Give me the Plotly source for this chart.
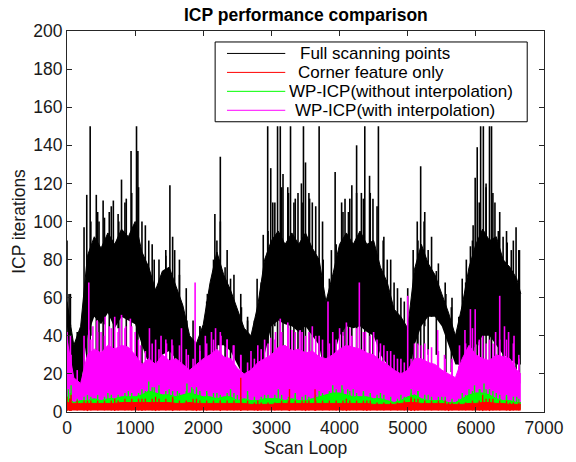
import plotly.graph_objects as go

# ---------------- data ----------------
scan_x = [0, 100, 200, 300, 400, 500, 600, 700, 800, 900, 1000, 1100, 1200, 1300, 1400, 1500, 1600,
          1700, 1800, 1900, 2000, 2100, 2200, 2300, 2400, 2500, 2600, 2700, 2800, 2900, 3000, 3100,
          3200, 3300, 3400, 3500, 3600, 3700, 3800, 3900, 4000, 4100, 4200, 4300, 4400, 4500, 4600,
          4700, 4800, 4900, 5000, 5100, 5200, 5300, 5400, 5500, 5600, 5700, 5800, 5900, 6000, 6100,
          6200, 6300, 6400, 6500, 6600, 6660]

# Full scanning points: dense band (upper / lower envelope), per-window maxima and isolated peaks
full_hi = [58, 35, 45, 82, 92, 86, 94, 88, 96, 92, 100, 84, 76, 64, 74, 76, 66, 56, 40, 36, 46, 68, 84,
           72, 64, 54, 44, 40, 56, 80, 90, 95, 88, 94, 88, 94, 86, 80, 58, 72, 88, 94, 88, 95, 88, 90,
           76, 68, 54, 50, 44, 75, 88, 78, 72, 62, 52, 40, 56, 76, 88, 96, 90, 92, 80, 76, 70, 62]
full_lo = [45, 10, 12, 40, 50, 46, 52, 44, 50, 48, 46, 35, 25, 18, 30, 32, 28, 22, 18, 15, 15, 25, 35,
           35, 32, 25, 18, 14, 16, 30, 45, 48, 46, 45, 42, 45, 40, 35, 15, 28, 40, 45, 44, 45, 42, 40,
           30, 25, 20, 16, 16, 35, 45, 50, 50, 45, 35, 25, 25, 30, 35, 40, 40, 35, 30, 28, 25, 25]
full_top = [62, 42, 55, 100, 105, 102, 108, 104, 110, 115, 118, 98, 88, 80, 85, 92, 80, 65, 48, 45, 58,
            80, 100, 85, 72, 62, 50, 48, 68, 95, 110, 118, 115, 112, 110, 115, 108, 100, 70, 88, 105,
            112, 115, 112, 115, 108, 92, 80, 65, 58, 55, 90, 105, 92, 78, 68, 60, 50, 68, 90, 110, 118,
            115, 105, 95, 90, 85]
full_peak_x = [0, 30, 250, 290, 340, 430, 470, 530, 620, 680, 760, 800, 870, 940, 1020, 1040, 1100, 1200,
               1280, 1450, 1510, 1580, 1650, 1760, 1950, 2060, 2170, 2200, 2250, 2320, 2400, 2560, 2650,
               2790, 2880, 2945, 2990, 3020, 3090, 3130, 3170, 3240, 3280, 3330, 3390, 3440, 3470, 3500,
               3560, 3600, 3700, 3760, 3880, 3935, 4030, 4080, 4130, 4180, 4250, 4320, 4370, 4440, 4490,
               4570, 4640, 4700, 4800, 4900, 5000, 5080, 5140, 5190, 5240, 5300, 5420, 5560, 5640, 5800,
               5860, 5920, 5960, 5990, 6020, 6070, 6110, 6150, 6200, 6230, 6280, 6330, 6400, 6460, 6520,
               6590, 6640]
full_peak_y = [90, 62, 97, 114, 150, 114, 100, 111, 105, 111, 100, 122, 112, 137, 150, 137, 100, 90,
               80, 82, 119, 85, 72, 48, 45, 62, 104, 90, 134, 76, 70, 55, 48,
               70, 93, 150, 128, 110, 150, 150, 125, 118, 150, 110, 115, 120, 150, 131,
               112, 110, 150, 80, 85, 126, 110, 112, 105, 119, 140, 115, 150, 124, 112,
               150, 90, 80, 68, 60, 65, 85, 100, 129, 100, 85, 74, 62, 55, 70,
               80, 87, 98, 123, 139, 150, 150, 120, 150, 150, 110, 95, 92, 89, 85,
               97, 85]

# WP-ICP (with interpolation)
with_hi = [38, 18, 15, 30, 33, 31, 35, 33, 35, 34, 30, 25, 28, 25, 30, 27, 28, 25, 22, 25, 28, 30, 33,
           29, 28, 23, 20, 22, 26, 28, 30, 34, 35, 32, 33, 31, 32, 29, 28, 30, 33, 35, 34, 33, 31, 30,
           27, 25, 22, 20, 22, 28, 28, 26, 25, 22, 20, 18, 28, 35, 30, 28, 27, 30, 29, 28, 22, 20]
with_lo = [3, 3, 3, 3, 4, 4, 4, 4, 4, 4, 4, 4, 4, 4, 4, 4, 4, 4, 3, 3, 3, 4, 4, 4, 4, 4, 3, 3, 3, 4,
           4, 4, 4, 4, 4, 4, 4, 4, 4, 4, 4, 4, 4, 4, 4, 4, 3, 3, 3, 3, 3, 4, 4, 4, 4, 3, 3, 3, 3, 4,
           4, 4, 4, 4, 4, 4, 3, 3]
with_top = [40, 22, 20, 38, 42, 40, 44, 42, 44, 45, 38, 32, 36, 33, 38, 35, 35, 33, 28, 32, 36, 38, 42,
            38, 35, 30, 26, 28, 33, 36, 38, 42, 44, 42, 42, 42, 40, 38, 36, 38, 42, 44, 44, 42, 40, 38,
            35, 32, 28, 26, 28, 36, 36, 34, 32, 28, 26, 24, 36, 44, 38, 36, 36, 38, 38, 36, 28]
with_peak_x = [0, 60, 250, 320, 380, 440, 500, 560, 620, 700, 760, 800, 860, 930, 1000, 1080, 1210,
               1300, 1380, 1460, 1540, 1680, 1780, 1880, 1950, 2030, 2120, 2180, 2260, 2350, 2440, 2550,
               2700, 2800, 2900, 2990, 3060, 3130, 3240, 3300, 3420, 3500, 3600, 3700, 3830, 3900, 4000,
               4100, 4180, 4290, 4380, 4500, 4600, 4700, 4800, 4900, 5000, 5100, 5200, 5300, 5440, 5540,
               5650, 5760, 5840, 5920, 5990, 6100, 6200, 6290, 6350, 6420, 6480, 6560, 6630]
with_peak_y = [42, 30, 40, 68, 45, 48, 42, 50, 45, 50, 44, 51, 45, 49, 42, 35, 44,
               38, 40, 36, 38, 44, 30, 68, 35, 40, 42, 44, 40, 38, 35, 30,
               32, 35, 38, 39, 42, 49, 47, 43, 43, 40, 45, 40, 58, 42, 44,
               47, 40, 68, 42, 42, 36, 32, 30, 28, 61, 36, 35, 33, 43, 30,
               28, 35, 43, 54, 54, 40, 38, 42, 61, 45, 42, 40, 30]

# WP-ICP (without interpolation)
without_hi = [8, 5, 6, 6, 7, 6, 7, 7, 8, 8, 8, 9, 11, 10, 9, 9, 8, 9, 10, 9, 8, 8, 7, 8, 8, 6, 7, 6,
              6, 7, 7, 7, 6, 7, 6, 6, 7, 8, 9, 10, 10, 9, 8, 8, 8, 7, 7, 6, 5, 6, 8, 9, 7, 6, 6, 6,
              5, 5, 7, 9, 10, 10, 9, 7, 6, 6, 5, 5]
without_lo = [1.5] * 68
without_top = [10, 7, 8, 8, 9, 8, 9, 9, 10, 10, 10, 11, 13, 12, 11, 11, 10, 11, 12, 11, 10, 10, 9, 10,
               10, 8, 9, 8, 8, 9, 9, 9, 8, 9, 8, 8, 9, 10, 11, 12, 12, 11, 10, 10, 10, 9, 9, 8, 7, 8,
               10, 11, 9, 8, 8, 8, 7, 7, 9, 11, 12, 12, 11, 9, 8, 8, 7]
without_peak_x = [20, 60, 300, 600, 900, 1100, 1200, 1280, 1350, 1500, 1620, 1760, 1830, 1900, 2050,
                  2200, 2400, 2500, 2650, 2900, 3100, 3350, 3500, 3700, 3900, 4035, 4120, 4200, 4350,
                  4600, 4900, 5050, 5150, 5300, 5500, 5800, 5900, 5980, 6060, 6120, 6200, 6300, 6450, 6600]
without_peak_y = [12, 14, 9, 10, 11, 12, 16, 13, 14, 12, 11, 15, 13, 13, 11,
                  10, 12, 9, 11, 9, 12, 10, 9, 11, 14, 14, 12, 12, 11,
                  10, 9, 12, 11, 9, 8, 10, 12, 14, 12, 15, 12, 10, 9, 8]

# Corner feature only
corner_hi = [5, 4.5, 4.5, 4.5, 4.5, 4.5, 4.5, 4.5, 5, 5, 5, 5, 5, 5, 5, 5, 4.5, 4.5, 5, 4.5, 4.5, 4.5,
             4.5, 4.5, 4.5, 4.5, 4.5, 4, 4, 4, 4, 4.5, 4.5, 4.5, 4.5, 4.5, 4.5, 4.5, 4.5, 4.5, 4.5, 4.5,
             4.5, 4.5, 4.5, 4, 4, 4, 4, 4.5, 5, 5, 4.5, 4.5, 4.5, 4.5, 4, 4, 4, 4.5, 4.5, 5, 5, 4.5, 4.5,
             4, 4, 4]
corner_lo = [0.8] * 68
corner_top = [7, 6, 6, 6, 6, 6, 6, 6, 7, 7, 7, 7, 7, 7, 7, 7, 6, 6, 7, 6, 6, 6, 6, 6, 6, 6, 6, 5, 5, 5,
              5, 6, 6, 6, 6, 6, 6, 6, 6, 6, 6, 6, 6, 6, 6, 5, 5, 5, 5, 6, 7, 7, 6, 6, 6, 6, 5, 5, 5, 6,
              6, 7, 7, 6, 6, 5, 5]
corner_peak_x = [0, 40, 60, 300, 700, 1100, 1300, 1550, 1900, 2250, 2550, 2800, 3265, 3500, 3640,
                 4100, 4400, 5050, 5100, 5600, 6100, 6200, 6500]
corner_peak_y = [8, 7, 9, 6, 7, 7, 8, 8, 7, 6, 18, 6, 12, 6, 12, 7, 6, 8, 7, 5, 9, 7, 5]

series_names = ["Full scanning points", "Corner feature only",
                "WP-ICP(without interpolation)", "WP-ICP(with interpolation)"]
series_colors = ["#000000", "#FF0000", "#00FF00", "#FF00FF"]

# ---------------- figure ----------------
FONT = "Liberation Sans, Arial, Helvetica, sans-serif"
TXT = "#1a1a1a"
AX = "#262626"

fig = go.Figure()


def add_series(name, color, lo, hi, top, px, py, width):
    fig.add_trace(go.Scatter(x=scan_x, y=lo, mode="lines", line=dict(width=0, color=color),
                             showlegend=False, hoverinfo="skip"))
    fig.add_trace(go.Scatter(x=scan_x, y=hi, mode="lines", line=dict(width=1, color=color),
                             fill="tonexty", fillcolor=color, name=name, showlegend=False))
    sx, sy = [], []
    # per-window maxima, placed at the middle of each 100-loop window
    for i, yv in enumerate(top):
        xv = (scan_x[i] + scan_x[i + 1]) / 2
        sx += [xv, xv, None]
        sy += [lo[i], yv, None]
    # isolated peaks
    for xv, yv in zip(px, py):
        i = min(range(len(scan_x)), key=lambda k: abs(scan_x[k] - xv))
        sx += [xv, xv, None]
        sy += [lo[i] * 0.6, yv, None]
    fig.add_trace(go.Scatter(x=sx, y=sy, mode="lines", line=dict(width=width, color=color),
                             showlegend=False, hoverinfo="skip", connectgaps=False))


add_series(series_names[0], series_colors[0], full_lo, full_hi, full_top, full_peak_x, full_peak_y, 1.6)
add_series(series_names[3], series_colors[3], with_lo, with_hi, with_top, with_peak_x, with_peak_y, 1.6)
add_series(series_names[2], series_colors[2], without_lo, without_hi, without_top,
           without_peak_x, without_peak_y, 1.4)
add_series(series_names[1], series_colors[1], corner_lo, corner_hi, corner_top,
           corner_peak_x, corner_peak_y, 1.4)

# ---------------- layout geometry ----------------
W, H = 576, 462
L, R, T, B = 67, 26, 31, 49
pw, ph = W - L - R, H - T - B


def px_x(p):
    return (p - L) / pw


def px_y(p):
    return (H - B - p) / ph


shapes = []
annotations = []
# legend box (MATLAB style)
shapes.append(dict(type="rect", xref="paper", yref="paper", x0=px_x(217), x1=px_x(533),
                   y0=px_y(122), y1=px_y(42), line=dict(color="#000000", width=1),
                   fillcolor="white", layer="above"))
rows_y = [53.5, 72.5, 91.5, 110.5]
text_x = [302, 300, 291, 297]
legend_order = [0, 1, 2, 3]
for k, idx in enumerate(legend_order):
    shapes.append(dict(type="line", xref="paper", yref="paper", x0=px_x(229), x1=px_x(288),
                       y0=px_y(rows_y[k]), y1=px_y(rows_y[k]),
                       line=dict(color=series_colors[idx], width=1), layer="above"))
    annotations.append(dict(xref="paper", yref="paper", x=px_x(text_x[k]), y=px_y(rows_y[k]),
                            xanchor="left", yanchor="middle", text=series_names[idx], showarrow=False,
                            height=17, valign="middle",
                            font=dict(family=FONT, size=17, color="#000000"), borderpad=0))

annotations.append(dict(xref="paper", yref="paper", x=0.5, y=px_y(15), xanchor="center", yanchor="middle",
                        text="<b>ICP performance comparison</b>", showarrow=False,
                        font=dict(family=FONT, size=17.5, color="#000000")))

fig.update_layout(
    width=W, height=H,
    margin=dict(l=L, r=R, t=T, b=B, pad=0),
    paper_bgcolor="white", plot_bgcolor="white",
    font=dict(family=FONT, size=17.5, color=TXT),
    showlegend=False,
    shapes=shapes,
    annotations=annotations,
    xaxis=dict(range=[0, 7000], dtick=1000, tick0=0, showgrid=False, zeroline=False,
               showline=True, linecolor=AX, linewidth=1, mirror="ticks",
               ticks="inside", ticklen=5, tickcolor=AX,
               tickfont=dict(family=FONT, size=17.5, color=TXT),
               title=dict(text="Scan Loop", standoff=0, font=dict(family=FONT, size=17.5, color=TXT))),
    yaxis=dict(range=[0, 200], dtick=20, tick0=0, showgrid=False, zeroline=False,
               showline=True, linecolor=AX, linewidth=1, mirror="ticks",
               ticks="inside", ticklen=5, tickcolor=AX,
               tickfont=dict(family=FONT, size=17.5, color=TXT),
               title=dict(text="ICP iterations", standoff=3, font=dict(family=FONT, size=17.5, color=TXT))),
)

fig.write_html("out.html")
